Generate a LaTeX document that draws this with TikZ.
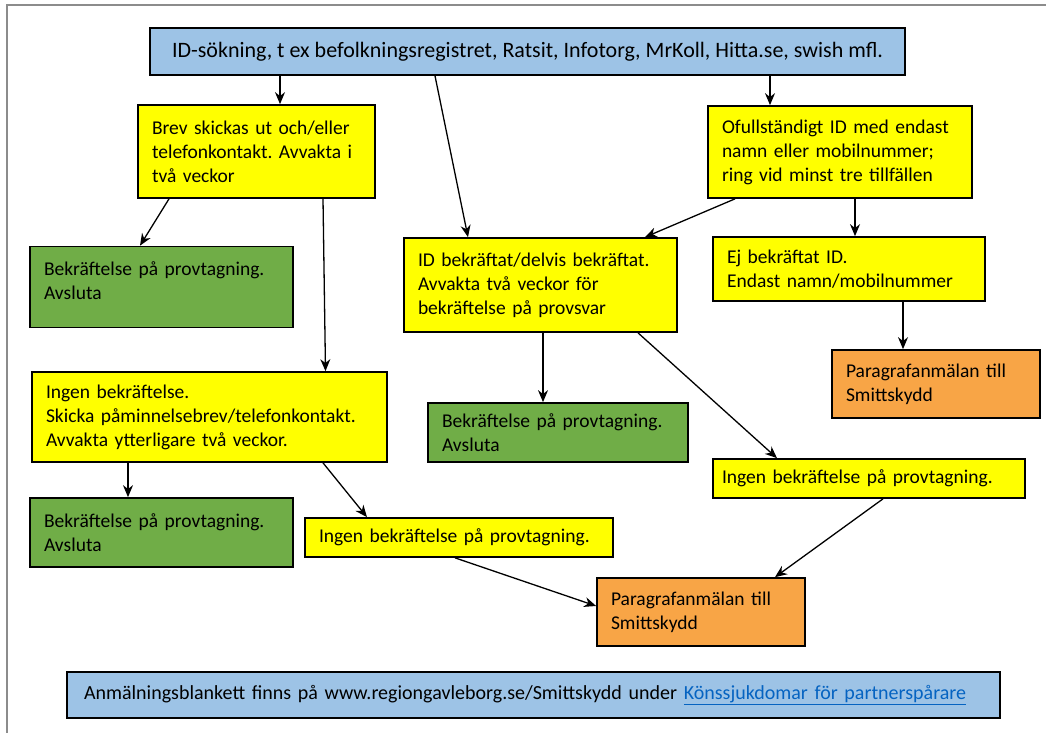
\documentclass[tikz,border=0pt]{standalone}
\usepackage{fontspec}
\setmainfont{Carlito}
\usetikzlibrary{arrows.meta}
\definecolor{idblue}{HTML}{9DC3E6}
\definecolor{idyellow}{HTML}{FFFF00}
\definecolor{idgreen}{HTML}{70AD47}
\definecolor{idorange}{HTML}{F8A546}
\definecolor{linkblue}{HTML}{0563C1}
\def\lnk{\textcolor{linkblue}}
\frenchspacing
\hyphenpenalty=10000

\begin{document}
\begin{tikzpicture}[x=1pt, y=-1pt,
  box/.style={draw=black, line width=1.7pt, inner xsep=14pt, inner ysep=0pt, align=left,
    font=\fontsize{19.5}{24}\selectfont},
  bluebox/.style={box, fill=idblue},
  yelbox/.style={box, fill=idyellow},
  grnbox/.style={box, fill=idgreen},
  orgbox/.style={box, fill=idorange},
  arr/.style={-{Stealth[length=12pt,width=10pt]}, line width=1.3pt}
]
\useasboundingbox (0,0) rectangle (1046,733);
\clip (0,0) rectangle (1046,733);
\draw[black!45, line width=1.5pt] (7,5) rectangle (1100,800);

\node[bluebox, align=center, minimum width=755pt, minimum height=47pt,
  font=\fontsize{22}{26}\selectfont] (top) at (527.5,51.5)
  {ID-sökning, t ex befolkningsregistret, Ratsit, Infotorg, MrKoll, Hitta.se, swish mfl.};
\node[yelbox, text width=209pt, minimum height=93pt] (brev) at (256.5,151.5)
  {Brev skickas ut och/eller\\telefonkontakt. Avvakta i\\två veckor};
\node[yelbox, text width=236pt, minimum height=92pt] (ofull) at (840,152)
  {Ofullständigt ID med endast\\namn eller mobilnummer;\\ring vid minst tre tillfällen};
\node[grnbox, text width=235pt, minimum height=81pt] (bek1) at (161.5,287)
  {Bekräftelse på provtagning.\\Avsluta\\[-12pt]\mbox{}};
\node[yelbox, text width=245pt, minimum height=94pt] (idbek) at (540.5,285)
  {ID bekräftat/delvis bekräftat.\\Avvakta två veckor för\\bekräftelse på provsvar};
\node[yelbox, text width=244pt, minimum height=64pt] (ej) at (849,269)
  {Ej bekräftat ID.\\Endast namn/mobilnummer};
\node[orgbox, text width=180pt, minimum height=68pt] (par1) at (936,384)
  {Paragrafanmälan till\\Smittskydd};
\node[yelbox, text width=327pt, minimum height=90pt] (ingen1) at (209.5,417)
  {Ingen bekräftelse.\\Skicka påminnelsebrev/telefonkontakt.\\Avvakta ytterligare två veckor.};
\node[grnbox, text width=232pt, minimum height=59pt] (bek2) at (558,432.5)
  {Bekräftelse på provtagning.\\Avsluta};
\node[yelbox, text width=294pt, inner xsep=9pt, minimum height=39pt] (ingen3) at (869,478.5)
  {Ingen bekräftelse på provtagning.};
\node[grnbox, text width=235pt, minimum height=69pt] (bek3) at (161.5,532.5)
  {Bekräftelse på provtagning.\\Avsluta};
\node[yelbox, text width=280pt, minimum height=39pt] (ingen2) at (459,537.5)
  {Ingen bekräftelse på provtagning.};
\node[orgbox, text width=180pt, minimum height=68pt] (par2) at (701,612)
  {Paragrafanmälan till\\Smittskydd};
\node[bluebox, text width=899pt, inner xsep=17pt, minimum height=46pt,
  font=\fontsize{20}{24}\selectfont] (info) at (533.5,695)
  {Anmälningsblankett finns på www.regiongavleborg.se/Smittskydd under \lnk{\underline{Könssjukdomar för partnerspårare}}};

\draw[arr] ([xshift=23.5pt]brev.north |- top.south) -- ([xshift=23.5pt]brev.north);
\draw[arr] ([xshift=-92.5pt]top.south) -- ([xshift=-72.5pt]idbek.north);
\draw[arr] ([xshift=-70pt]ofull.north |- top.south) -- ([xshift=-70pt]ofull.north);
\draw[arr] ([xshift=-87.5pt]brev.south) -- ([xshift=-21.5pt]bek1.north);
\draw[arr] ([xshift=66.5pt]brev.south) -- ([xshift=116pt]ingen1.north);
\draw[arr] ([xshift=-105pt]ofull.south) -- ([xshift=104.5pt]idbek.north);
\draw[arr] ([xshift=15pt]ofull.south) -- ([xshift=15pt]ofull.south |- ej.north);
\draw[arr] ([xshift=54pt]ej.south) -- ([xshift=54pt]ej.south |- par1.north);
\draw[arr] ([xshift=2.5pt]idbek.south) -- ([xshift=2.5pt]idbek.south |- bek2.north);
\draw[arr] ([xshift=97.5pt]idbek.south) -- ([xshift=-92pt]ingen3.north);
\draw[arr] ([xshift=-81.5pt]ingen1.south) -- ([xshift=-81.5pt]ingen1.south |- bek3.north);
\draw[arr] ([xshift=113.5pt]ingen1.south) -- ([xshift=-92pt]ingen2.north);
\draw[arr] ([xshift=-4pt]ingen2.south) -- ([yshift=6pt]par2.west);
\draw[arr] ([xshift=14pt]ingen3.south) -- ([xshift=74pt]par2.north);

\end{tikzpicture}
\end{document}
